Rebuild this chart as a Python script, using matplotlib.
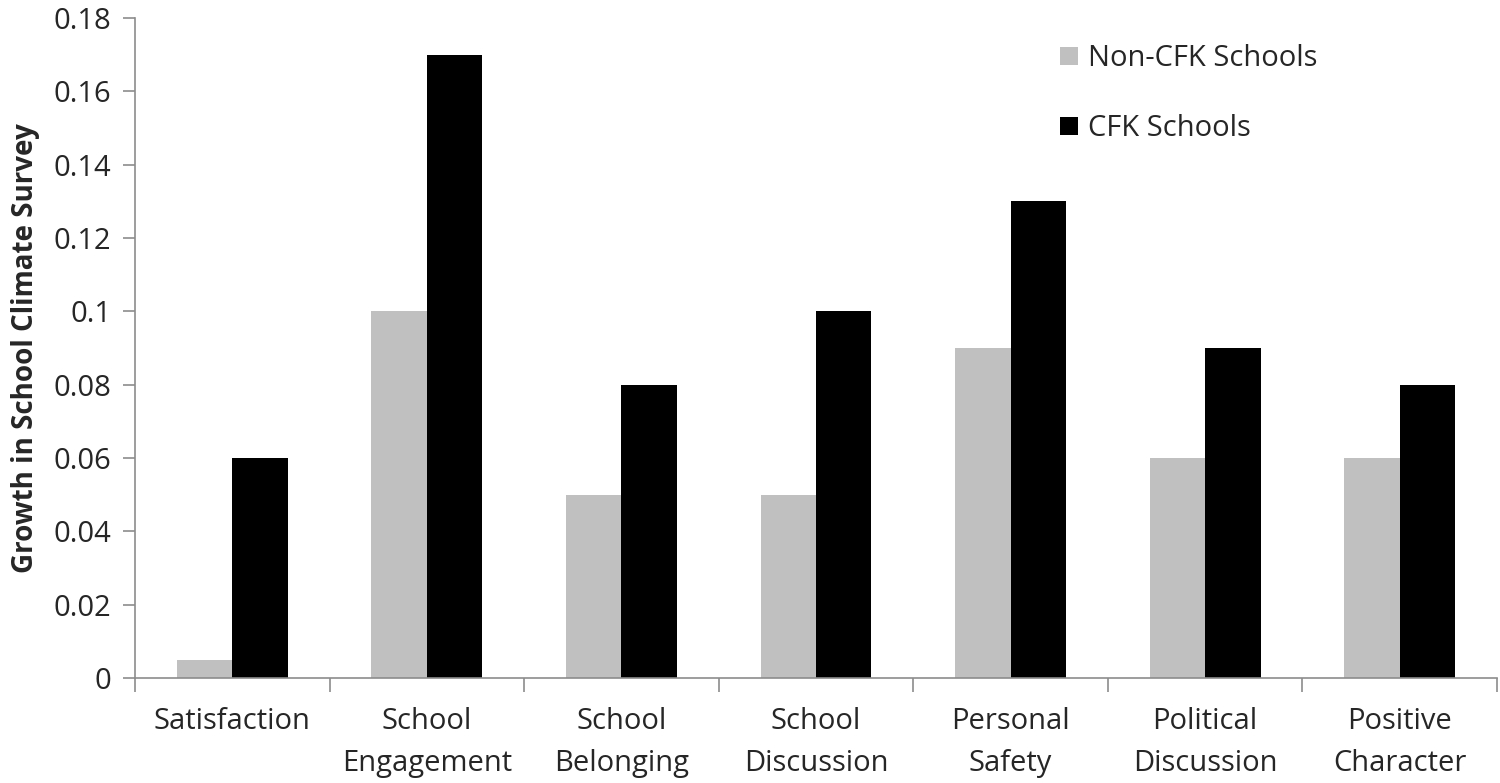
import numpy as np
import matplotlib
matplotlib.use('Agg')
import matplotlib.pyplot as plt

# Data
categories = ['Satisfaction', 'School\nEngagement', 'School\nBelonging', 'School\nDiscussion',
              'Personal\nSafety', 'Political\nDiscussion', 'Positive\nCharacter']
non_cfk = [0.005, 0.10, 0.05, 0.05, 0.09, 0.06, 0.06]
cfk = [0.06, 0.17, 0.08, 0.10, 0.13, 0.09, 0.08]
yticks = [0, 0.02, 0.04, 0.06, 0.08, 0.1, 0.12, 0.14, 0.16, 0.18]
ytick_labels = ['0', '0.02', '0.04', '0.06', '0.08', '0.1', '0.12', '0.14', '0.16', '0.18']

plt.rcParams['font.family'] = ['Open Sans', 'DejaVu Sans']
text_color = '#262626'
axis_color = '#8c8c8c'
fs = 21

fig = plt.figure(figsize=(15, 7.83), dpi=100)
ax = fig.add_axes([0.09, 0.134, 0.908, 0.843])

x = np.arange(len(categories))
w = 0.285
ax.bar(x - w/2, non_cfk, width=w, color='#c0c0c0', label='Non-CFK Schools')
ax.bar(x + w/2, cfk, width=w, color='black', label='CFK Schools')

ax.set_xlim(-0.5, len(categories) - 0.5)
ax.set_ylim(0, 0.18)
ax.set_yticks(yticks)
ax.set_yticklabels(ytick_labels)

# major ticks at category boundaries, labels at centres
ax.set_xticks(np.arange(-0.5, len(categories)))
ax.set_xticklabels([])
ax.set_xticks(x, minor=True)
ax.set_xticklabels(categories, minor=True, fontsize=fs, color=text_color, linespacing=1.6)
ax.tick_params(axis='x', which='minor', length=0, pad=21)
ax.tick_params(axis='x', which='major', length=10, color=axis_color, width=1.2)
ax.tick_params(axis='y', length=9, color=axis_color, width=1.2, labelsize=fs,
               labelcolor=text_color, pad=8)

for s in ['top', 'right']:
    ax.spines[s].set_visible(False)
for s in ['left', 'bottom']:
    ax.spines[s].set_color(axis_color)
    ax.spines[s].set_linewidth(1.2)

ax.set_ylabel('Growth in School Climate Survey', fontsize=20, fontweight='bold',
              color=text_color)
ax.yaxis.set_label_coords(-0.07, 0.5)

ax.legend(loc='upper left', bbox_to_anchor=(0.66, 1.0), frameon=False, fontsize=fs,
          handlelength=0.6, handleheight=0.6, handletextpad=0.35, labelspacing=1.4,
          labelcolor=text_color)

fig.savefig('out.png', dpi=100)
